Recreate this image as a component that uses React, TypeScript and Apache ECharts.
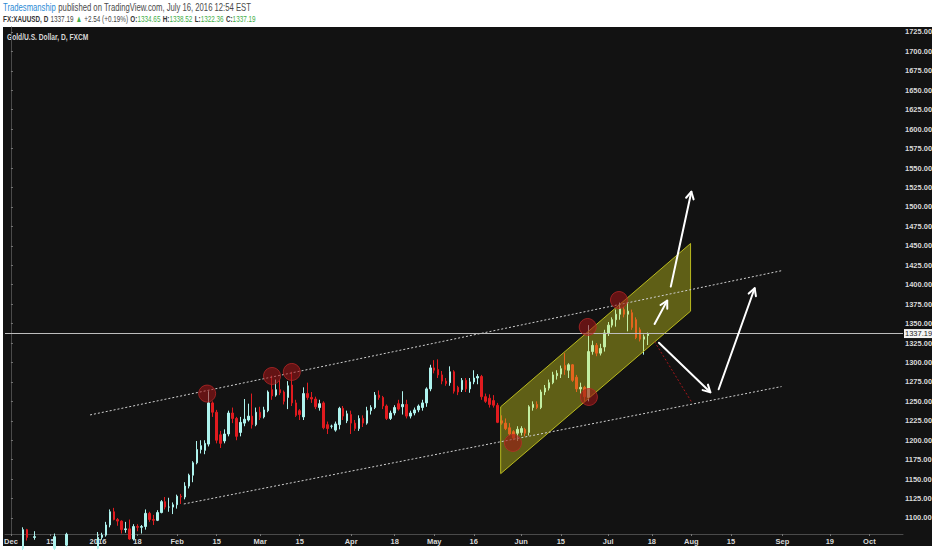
import React, { useEffect, useRef } from "react";
import * as echarts from "echarts";

// XAUUSD daily candles, rows are [open, high, low, close]
const nov2015 = [[1057, 1065, 1052, 1064]];
const dec2015 = [
  [1064, 1073, 1062, 1068], [1068, 1069, 1050, 1052], [1052, 1062, 1046, 1061], [1061, 1088, 1058, 1085],
  [1085, 1086, 1071, 1075], [1075, 1077, 1069, 1075], [1075, 1083, 1072, 1076], [1076, 1078, 1068, 1071],
  [1071, 1077, 1068, 1075], [1075, 1077, 1060, 1063], [1063, 1067, 1058, 1061], [1061, 1080, 1058, 1076],
  [1076, 1077, 1047, 1049], [1049, 1068, 1046, 1065], [1065, 1081, 1063, 1079], [1079, 1079, 1070, 1075],
  [1075, 1078, 1067, 1069], [1069, 1079, 1067, 1075], [1075, 1077, 1066, 1068], [1068, 1079, 1067, 1077],
  [1077, 1078, 1058, 1059], [1059, 1064, 1058, 1061],
];
const jan2016 = [
  [1061, 1082, 1060, 1075], [1075, 1081, 1072, 1078], [1078, 1095, 1076, 1091], [1091, 1111, 1088, 1108],
  [1108, 1113, 1097, 1098], [1098, 1100, 1090, 1096], [1096, 1097, 1080, 1085], [1085, 1095, 1081, 1086],
  [1086, 1098, 1072, 1073], [1073, 1092, 1071, 1089], [1089, 1092, 1083, 1088], [1088, 1091, 1080, 1089],
  [1089, 1111, 1085, 1106], [1106, 1108, 1095, 1098], [1098, 1104, 1091, 1097], [1097, 1110, 1096, 1107],
  [1107, 1123, 1106, 1121], [1121, 1127, 1111, 1114], [1114, 1126, 1108, 1114], [1114, 1120, 1105, 1117],
];
const feb2016 = [
  [1117, 1130, 1112, 1128], [1128, 1131, 1118, 1127], [1127, 1146, 1124, 1141], [1141, 1157, 1138, 1155],
  [1155, 1173, 1146, 1171], [1171, 1199, 1169, 1188], [1188, 1200, 1183, 1193], [1187, 1200, 1182, 1196],
  [1195, 1263, 1192, 1248], [1248, 1250, 1230, 1236], [1236, 1239, 1196, 1200], [1207, 1212, 1190, 1196],
  [1199, 1214, 1196, 1208], [1208, 1238, 1205, 1235], [1235, 1242, 1222, 1228], [1228, 1230, 1200, 1205],
  [1210, 1230, 1205, 1223], [1222, 1253, 1218, 1227], [1226, 1247, 1224, 1231], [1231, 1260, 1215, 1220],
  [1220, 1242, 1218, 1236],
];
const mar2016 = [
  [1236, 1243, 1226, 1229], [1230, 1243, 1228, 1239], [1238, 1264, 1236, 1262], [1265, 1283, 1252, 1257],
  [1258, 1278, 1256, 1265], [1265, 1277, 1258, 1261], [1262, 1264, 1246, 1250], [1255, 1276, 1240, 1270],
  [1271, 1288, 1244, 1248], [1248, 1252, 1230, 1232], [1238, 1240, 1226, 1233], [1230, 1268, 1226, 1260],
  [1260, 1274, 1252, 1255], [1255, 1262, 1248, 1253], [1253, 1256, 1240, 1243], [1242, 1252, 1238, 1247],
  [1248, 1250, 1214, 1216], [1220, 1224, 1208, 1215], [1218, 1220, 1215, 1218], [1213, 1224, 1211, 1221],
  [1220, 1243, 1214, 1241], [1241, 1244, 1226, 1231], [1225, 1238, 1222, 1234],
];
const apr2016 = [
  [1233, 1238, 1208, 1222], [1222, 1226, 1212, 1215], [1215, 1232, 1212, 1228], [1228, 1232, 1217, 1222],
  [1222, 1243, 1220, 1238], [1238, 1245, 1233, 1242], [1242, 1262, 1240, 1258], [1258, 1264, 1252, 1255],
  [1255, 1257, 1240, 1244], [1244, 1246, 1226, 1228], [1228, 1238, 1226, 1235], [1235, 1245, 1232, 1242],
  [1247, 1252, 1238, 1240], [1243, 1263, 1233, 1246], [1246, 1252, 1228, 1231], [1231, 1238, 1228, 1235],
  [1235, 1242, 1232, 1239], [1239, 1246, 1236, 1244], [1242, 1252, 1238, 1248], [1248, 1268, 1243, 1266],
  [1266, 1297, 1263, 1293],
];
const may2016 = [
  [1293, 1303, 1286, 1290], [1291, 1304, 1280, 1284], [1284, 1289, 1272, 1276], [1276, 1280, 1270, 1273],
  [1274, 1295, 1270, 1288], [1288, 1290, 1260, 1263], [1268, 1270, 1258, 1262], [1265, 1280, 1262, 1277],
  [1277, 1280, 1262, 1266], [1266, 1280, 1261, 1275], [1275, 1290, 1272, 1280], [1280, 1285, 1272, 1282],
  [1282, 1284, 1252, 1256], [1256, 1260, 1248, 1250], [1254, 1259, 1242, 1246], [1251, 1258, 1242, 1245],
  [1245, 1248, 1222, 1223], [1225, 1232, 1220, 1222], [1222, 1228, 1213, 1215], [1216, 1222, 1206, 1208],
  [1211, 1213, 1200, 1203], [1209, 1218, 1199, 1214],
];
const jun2016 = [
  [1210, 1218, 1206, 1215], [1214, 1216, 1205, 1209], [1210, 1245, 1206, 1243], [1242, 1250, 1238, 1246],
  [1246, 1250, 1240, 1242], [1242, 1265, 1240, 1262], [1262, 1271, 1258, 1267], [1267, 1278, 1264, 1274],
  [1274, 1288, 1272, 1284], [1283, 1290, 1278, 1286], [1285, 1296, 1280, 1292], [1296, 1312, 1284, 1291],
  [1290, 1299, 1280, 1297], [1297, 1298, 1275, 1277], [1281, 1284, 1262, 1266], [1266, 1274, 1260, 1268],
  [1268, 1270, 1250, 1256], [1255, 1348, 1250, 1314], [1314, 1328, 1310, 1322], [1322, 1325, 1308, 1312],
  [1312, 1324, 1309, 1318], [1320, 1342, 1314, 1338],
];
const jul2016 = [
  [1338, 1352, 1334, 1348], [1348, 1358, 1345, 1355], [1355, 1368, 1346, 1362], [1362, 1377, 1355, 1370],
  [1368, 1372, 1358, 1362], [1362, 1376, 1340, 1366], [1364, 1368, 1342, 1345], [1355, 1358, 1330, 1332],
  [1342, 1345, 1327, 1330], [1330, 1336, 1310, 1333], [1334.65, 1338.52, 1322.36, 1337.19],
];

const lastClose = 1337.19;
const holidays = ["2015-12-25", "2016-01-01"];
const firstDay = "2015-11-30";
const barCount = 227;

// x-axis tick labels by date
const dateLabels: Record<string, string> = {
  "2015-12-01": "Dec", "2015-12-15": "15", "2016-01-04": "2016", "2016-01-18": "18",
  "2016-02-01": "Feb", "2016-02-15": "15", "2016-03-01": "Mar", "2016-03-15": "15",
  "2016-04-01": "Apr", "2016-04-18": "18", "2016-05-02": "May", "2016-05-16": "16",
  "2016-06-01": "Jun", "2016-06-15": "15", "2016-07-01": "Jul", "2016-07-18": "18",
  "2016-08-01": "Aug", "2016-08-15": "15", "2016-09-01": "Sep", "2016-09-19": "19",
  "2016-10-03": "Oct",
};
const priceTicks = [
  1100, 1125, 1150, 1175, 1200, 1225, 1250, 1275, 1300, 1325, 1350, 1375, 1400,
  1425, 1450, 1475, 1500, 1525, 1550, 1575, 1600, 1625, 1650, 1675, 1700, 1725,
];

// drawings, x = bar number counted from 2015-12-01, y = price
const upperChannel = [[20, 1232.5], [194.8, 1418]];
const lowerChannel = [[43.7, 1118], [194.8, 1269]];
const projection = [[162.7, 1326.7], [172, 1249.6]];
const risingBox = [123.8, 1243, 123.8, 1157, 171.8, 1366, 171.8, 1453];
const pivots = [
  [49.6, 1260], [66, 1282.6], [71, 1287.8], [126.9, 1196.5],
  [145.8, 1345.6], [146.1, 1255.6], [153.7, 1380.3],
];
const arrows = [
  [166.8, 1397.5, 172.0, 1519.6],
  [162.7, 1349.5, 165.9, 1379.5],
  [163.8, 1325.4, 176.8, 1261.7],
  [178.9, 1265.5, 188.0, 1395.4],
];

const FONT = '"Liberation Sans", Arial, sans-serif';

const pad = (n: number) => (n < 10 ? "0" + n : "" + n);
const tradingDays = () => {
  const out: string[] = [];
  const d = new Date(firstDay + "T12:00:00Z");
  while (out.length < barCount) {
    const day = d.getUTCDay();
    const key = `${d.getUTCFullYear()}-${pad(d.getUTCMonth() + 1)}-${pad(d.getUTCDate())}`;
    if (day !== 0 && day !== 6 && !holidays.includes(key)) out.push(key);
    d.setUTCDate(d.getUTCDate() + 1);
  }
  return out;
};

const App = () => {
  const chartRef = useRef<HTMLDivElement>(null);

  useEffect(() => {
    document.body.style.margin = "0";
    // @ts-ignore
    const chart = echarts.init(chartRef.current, null, { renderer: "svg" });

    const dates = tradingDays();
    const candles = [
      ...nov2015, ...dec2015, ...jan2016, ...feb2016, ...mar2016,
      ...apr2016, ...may2016, ...jun2016, ...jul2016,
    ].map(([o, h, l, c]) => [o, c, l, h]);
    const isLabel = (_i: number, v: string) => !!dateLabels[v];

    const options = {
      animation: false,
      // header texts are squeezed a little, TradingView used a narrow face
      graphic: [
        {
          type: "text", left: 3, top: 2, scaleX: 0.77, silent: true,
          style: {
            text: "{a|Tradesmanship} {b|published on TradingView.com, July 16, 2016 12:54 EST}",
            rich: {
              a: { fill: "#2b8bd5", fontSize: 10, fontFamily: FONT },
              b: { fill: "#4a4a4a", fontSize: 10, fontFamily: FONT },
            },
          },
        },
        {
          type: "text", left: 3, top: 13, scaleX: 0.67, silent: true,
          style: {
            text: "{k|FX:XAUUSD, D} {n|1337.19} {g|▲} {n|+2.54 (+0.19%)} {k|O:}{g|1334.65} {k|H:}{g|1338.52} {k|L:}{g|1322.36} {k|C:}{g|1337.19}",
            rich: {
              k: { fill: "#333", fontSize: 9.5, fontWeight: "bold", fontFamily: FONT },
              n: { fill: "#444", fontSize: 9.5, fontFamily: FONT },
              g: { fill: "#3fae49", fontSize: 9.5, fontFamily: FONT },
            },
          },
        },
        {
          type: "text", left: 7, top: 33, scaleX: 0.74, silent: true,
          style: { text: "Gold/U.S. Dollar, D, FXCM", fill: "#d8d8d8", fontSize: 9, fontWeight: "bold", fontFamily: FONT },
        },
      ],
      grid: { left: 5, right: 29, top: 27, bottom: 16, outerBoundsMode: "none", containLabel: false },
      xAxis: [
        {
          type: "category",
          data: dates,
          boundaryGap: true,
          axisLine: { lineStyle: { color: "#4a4a4a" } },
          axisTick: { show: true, interval: isLabel, length: 2, alignWithLabel: true, lineStyle: { color: "#777" } },
          axisLabel: {
            interval: isLabel,
            formatter: (v: string) => dateLabels[v] || "",
            color: "#d8d8d8", fontSize: 7.5, fontWeight: "bold", fontFamily: FONT, margin: 3,
          },
          splitLine: { show: false },
        },
        { type: "value", min: -1.5, max: barCount - 1.5, show: false },
      ],
      yAxis: {
        type: "value",
        position: "right",
        min: 1079.4,
        max: 1731.4,
        axisLine: { show: true, lineStyle: { color: "#4a4a4a" } },
        axisTick: { show: true, length: 2, customValues: priceTicks, lineStyle: { color: "#777" } },
        axisLabel: {
          customValues: priceTicks,
          formatter: (v: number) => v.toFixed(2),
          color: "#d8d8d8", fontSize: 7.5, fontWeight: "bold", fontFamily: FONT, margin: 2,
        },
        splitLine: { show: false },
      },
      series: [
        {
          type: "candlestick",
          data: candles,
          barWidth: 2,
          itemStyle: {
            color: "#aef3ee", color0: "#e11b1f",
            borderColor: "#aef3ee", borderColor0: "#e11b1f", borderWidth: 1,
          },
          markLine: {
            silent: true,
            symbol: ["none", "none"],
            data: [{ yAxis: lastClose }],
            lineStyle: { color: "#bdbdbd", width: 1, type: "solid" },
            label: {
              position: "end", distance: 1, formatter: lastClose.toFixed(2),
              backgroundColor: "#f4f4f4", color: "#222", fontSize: 7.5, padding: [1, 1, 0, 1], fontFamily: FONT,
            },
          },
          z: 2,
        },
        {
          type: "custom",
          xAxisIndex: 1,
          data: [risingBox],
          renderItem: (_p: any, api: any) => {
            const pts = [0, 1, 2, 3].map((k) => api.coord([api.value(2 * k), api.value(2 * k + 1)]));
            return {
              type: "polygon",
              shape: { points: pts },
              style: { fill: "rgba(232,232,30,0.36)", stroke: "#b9b91e", lineWidth: 1 },
            };
          },
          silent: true,
          z: 3,
        },
        {
          type: "line", xAxisIndex: 1, data: upperChannel, symbol: "none", silent: true, z: 4,
          lineStyle: { color: "#d0d0d0", width: 1, type: [2, 2] },
        },
        {
          type: "line", xAxisIndex: 1, data: lowerChannel, symbol: "none", silent: true, z: 4,
          lineStyle: { color: "#d0d0d0", width: 1, type: [2, 2] },
        },
        {
          type: "line", xAxisIndex: 1, data: projection, symbol: "none", silent: true, z: 4,
          lineStyle: { color: "#a3161a", width: 1, type: [2, 2] },
        },
        {
          type: "scatter", xAxisIndex: 1, data: pivots, symbolSize: 17, silent: true, z: 5,
          itemStyle: { color: "rgba(160,20,22,0.72)", borderColor: "rgba(190,40,40,0.9)", borderWidth: 1 },
        },
        {
          type: "custom",
          xAxisIndex: 1,
          data: arrows,
          silent: true,
          z: 6,
          renderItem: (_p: any, api: any) => {
            const a = api.coord([api.value(0), api.value(1)]);
            const b = api.coord([api.value(2), api.value(3)]);
            const ang = Math.atan2(b[1] - a[1], b[0] - a[0]);
            const len = 8;
            const spread = 0.5;
            const h1 = [b[0] - len * Math.cos(ang - spread), b[1] - len * Math.sin(ang - spread)];
            const h2 = [b[0] - len * Math.cos(ang + spread), b[1] - len * Math.sin(ang + spread)];
            const style = { stroke: "#ffffff", lineWidth: 2, fill: "none", lineCap: "round", lineJoin: "round" };
            return {
              type: "group",
              children: [
                { type: "line", shape: { x1: a[0], y1: a[1], x2: b[0], y2: b[1] }, style },
                { type: "polyline", shape: { points: [h1, b, h2] }, style },
              ],
            };
          },
        },
      ],
    };

    chart.setOption(options);

    return () => {
      chart.dispose();
    };
  }, []);

  return (
    <div style={{ position: "relative", width: 932, height: 550, background: "#ffffff", overflow: "hidden" }}>
      <div style={{ position: "absolute", left: 3, top: 27, width: 929, height: 519, background: "#121212" }} />
      <div ref={chartRef} style={{ position: "absolute", left: 0, top: 0, width: 932, height: 550 }} />
    </div>
  );
};

export default App;
